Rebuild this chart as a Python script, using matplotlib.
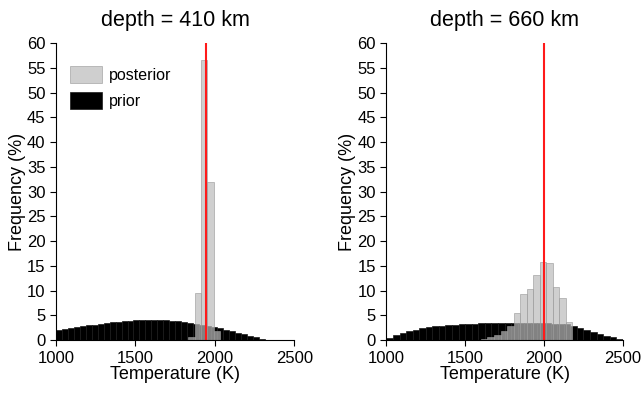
import numpy as np
import matplotlib
matplotlib.use("Agg")
import matplotlib.pyplot as plt

plt.rcParams['font.family'] = ['Liberation Sans', 'DejaVu Sans']

# ---- data ----
depths = [410, 660]
true_T = [1945, 2000]

# prior histograms (% per bin)
prior_410_start = 1000
prior_410_width = 37.5
prior_410 = [2.0, 2.2, 2.4, 2.6, 2.8, 3.0, 3.15, 3.3, 3.45, 3.6, 3.7, 3.8,
             3.9, 4.0, 4.05, 4.1, 4.1, 4.05, 4.0, 3.9, 3.8, 3.65, 3.5, 3.3,
             3.1, 2.85, 2.6, 2.35, 2.05, 1.75, 1.45, 1.15, 0.85, 0.55, 0.3, 0.1]

prior_660_start = 1000
prior_660_width = 41.67
prior_660 = [0.5, 1.1, 1.5, 1.8, 2.1, 2.35, 2.55, 2.75, 2.9, 3.05, 3.15, 3.25,
             3.3, 3.35, 3.4, 3.45, 3.5, 3.5, 3.5, 3.5, 3.5, 3.5, 3.45, 3.45,
             3.4, 3.35, 3.3, 3.2, 2.8, 2.4, 2.0, 1.6, 1.25, 0.9, 0.55, 0.15]

# posterior histograms
post_410_start = 1833
post_410_width = 40
post_410 = [0.6, 9.5, 56.5, 32.0, 1.8]

post_660_start = 1600
post_660_width = 41.5
post_660 = [0.3, 0.6, 1.1, 1.8, 2.8, 5.4, 9.3, 10.3, 13.1, 15.8, 15.5, 10.8,
            8.6, 3.7]

priors = [(prior_410_start, prior_410_width, prior_410),
          (prior_660_start, prior_660_width, prior_660)]
posts = [(post_410_start, post_410_width, post_410),
         (post_660_start, post_660_width, post_660)]

fig = plt.figure(figsize=(6.44, 3.95), dpi=100)
ax1 = fig.add_axes([0.087, 0.139, 0.370, 0.752])
ax2 = fig.add_axes([0.600, 0.139, 0.367, 0.752])

for ax, d, t, pr, po in zip([ax1, ax2], depths, true_T, priors, posts):
    x0, w, h = pr
    edges = x0 + w * np.arange(len(h))
    ax.bar(edges, h, width=w, align='edge', color='black',
           edgecolor='#1a1a1a', linewidth=0.5, label='prior')
    x0, w, h = po
    edges = x0 + w * np.arange(len(h))
    ax.bar(edges, h, width=w, align='edge', color='#bbbbbb', alpha=0.7,
           edgecolor='#999999', linewidth=0.6, label='posterior')
    ax.axvline(t, color='#ff1a1a', linewidth=1.5)

    ax.set_xlim(1000, 2500)
    ax.set_ylim(0, 60)
    ax.set_xticks([1000, 1500, 2000, 2500])
    ax.set_yticks(range(0, 61, 5))
    ax.spines['top'].set_visible(False)
    ax.spines['right'].set_visible(False)
    ax.tick_params(labelsize=12, direction='out', length=4)
    ax.set_xlabel('Temperature (K)', fontsize=13, labelpad=0)
    ax.set_ylabel('Frequency (%)', fontsize=13, labelpad=1)
    ax.set_title('depth = %d km' % d, fontsize=15.5, pad=12)

handles, labels = ax1.get_legend_handles_labels()
ax1.legend(handles[::-1], labels[::-1], loc='upper left',
           bbox_to_anchor=(0.0, 0.97), frameon=False, fontsize=11.5,
           handlelength=2.0, handleheight=1.25, handletextpad=0.4,
           labelspacing=0.55)

plt.savefig('out.png', dpi=100)
